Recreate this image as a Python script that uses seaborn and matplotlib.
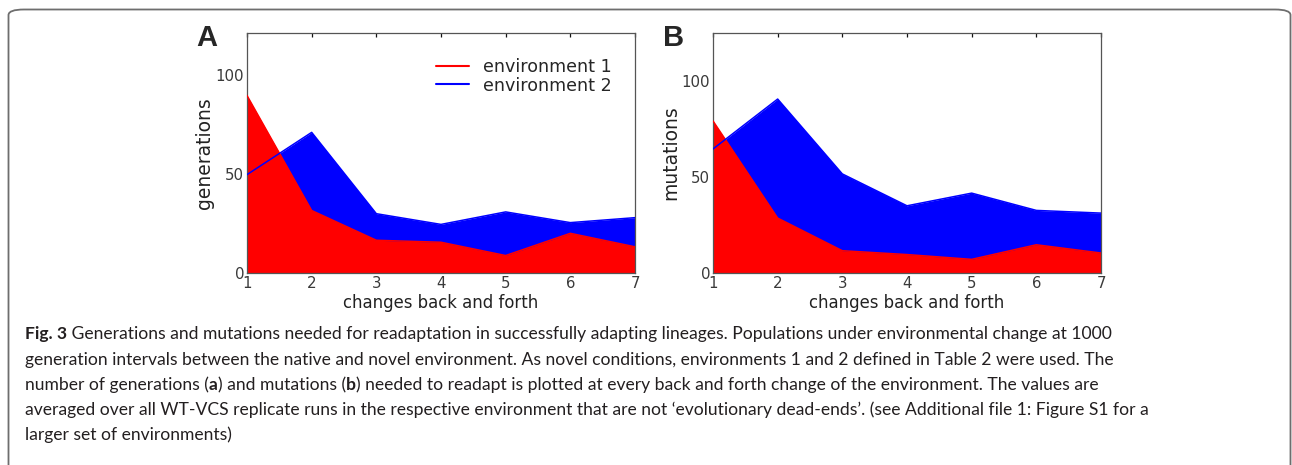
import numpy as np
import pandas as pd
import matplotlib
matplotlib.use("Agg")
import matplotlib.pyplot as plt
from matplotlib.patches import FancyBboxPatch
import seaborn as sns

# ---- data ----
changes = [1, 2, 3, 4, 5, 6, 7]
gen_env1 = [89.5, 31.5, 16.5, 15.5, 8.8, 20.0, 13.2]
gen_env2 = [49.6, 70.9, 29.9, 24.5, 30.8, 25.4, 27.9]
mut_env1 = [79.2, 28.6, 11.6, 9.6, 7.1, 14.7, 10.4]
mut_env2 = [64.6, 90.6, 51.6, 35.0, 41.6, 32.6, 31.2]
series_names = ["environment 1", "environment 2"]
colors = ["#ff0000", "#0000ff"]
yticks = [0, 50, 100]
xticks = [1, 2, 3, 4, 5, 6, 7]

caption_lines = [
    [("Fig. 3", True), (" Generations and mutations needed for readaptation in successfully adapting lineages. Populations under environmental change at 1000", False)],
    [("generation intervals between the native and novel environment. As novel conditions, environments 1 and 2 defined in Table 2 were used. The", False)],
    [("number of generations (", False), ("a", True), (") and mutations (", False), ("b", True), (") needed to readapt is plotted at every back and forth change of the environment. The values are", False)],
    [("averaged over all WT-VCS replicate runs in the respective environment that are not \u2018evolutionary dead-ends\u2019. (see Additional file 1: Figure S1 for a", False)],
    [("larger set of environments)", False)],
]

sns.set_style("white")
plt.rcParams["font.family"] = ["DejaVu Sans"]

W, H = 1292, 465
fig = plt.figure(figsize=(W / 100, H / 100), dpi=100)

# outer frame
frame = FancyBboxPatch((8.5 / W, -0.2), (1290.5 - 8.5) / W, (H - 9.5) / H + 0.2,
                       boxstyle="round,pad=0,rounding_size=0.012",
                       transform=fig.transFigure, facecolor="none",
                       edgecolor="#6e6e6e", linewidth=1.3, clip_on=False)
fig.patches.append(frame)

def make_panel(rect, env1, env2, ylabel, ylim, letter, legend):
    ax = fig.add_axes(rect)
    df = pd.DataFrame({
        "x": changes * 2,
        "y": list(env1) + list(env2),
        "env": [series_names[0]] * len(changes) + [series_names[1]] * len(changes),
    })
    ax.fill_between(changes, env2, 0, color=colors[1], lw=0, zorder=1)
    ax.fill_between(changes, env1, 0, color=colors[0], lw=0, zorder=2)
    sns.lineplot(data=df, x="x", y="y", hue="env", palette=colors,
                 hue_order=series_names, ax=ax, lw=1.1, zorder=3, legend=legend)
    ax.set_xlim(1, 7)
    ax.set_ylim(0, ylim)
    ax.set_xticks(xticks)
    ax.set_yticks(yticks)
    ax.tick_params(direction="in", top=True, right=False, length=3, width=0.9,
                   labelsize=10.8, colors="#111111", labelcolor="#3a3a3a", pad=2)
    for s in ax.spines.values():
        s.set_color("#555555")
        s.set_linewidth(0.9)
    ax.set_xlabel("changes back and forth", fontsize=11.9, color="#222222", labelpad=2)
    ax.set_ylabel(ylabel, fontsize=13.5, color="#222222", labelpad=1)
    ax.text(-0.13, 0.98, letter, transform=ax.transAxes, fontsize=21,
            fontweight="bold", family="Liberation Sans", va="center", ha="left")
    if legend:
        leg = ax.legend(frameon=False, fontsize=12.6, loc="upper right",
                        bbox_to_anchor=(0.94, 0.895), handlelength=1.9,
                        handletextpad=0.8, labelspacing=0.02, borderaxespad=0.0,
                        borderpad=0.0)
        for h in leg.get_lines():
            h.set_linewidth(1.5)
    return ax

make_panel([247 / W, 1 - 273 / H, (635 - 247) / W, (273 - 33) / H],
           gen_env1, gen_env2, "generations", 121, "A", True)
make_panel([713 / W, 1 - 273 / H, (1101 - 713) / W, (273 - 33) / H],
           mut_env1, mut_env2, "mutations", 125, "B", False)

# caption
baselines = [339, 365, 390, 415, 440]
cap_family = "Lato"
cap_size = 12.6
renderer = fig.canvas.get_renderer()
for line, base in zip(caption_lines, baselines):
    x = 25
    for txt, bold in line:
        t = fig.text(x / W, 1 - base / H, txt, fontsize=cap_size, family=cap_family,
                     fontweight="bold" if bold else "normal", color="#231f20",
                     va="baseline", ha="left")
        bb = t.get_window_extent(renderer=renderer)
        x += bb.width

fig.savefig("out.png", dpi=100)
